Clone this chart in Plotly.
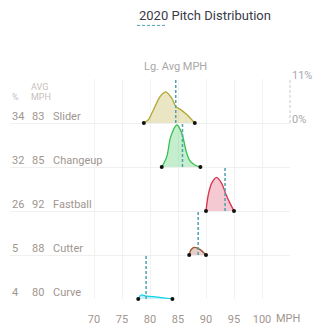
import plotly.graph_objects as go

# ---- data ----
pitches = ["Slider", "Changeup", "Fastball", "Cutter", "Curve"]
usage_pct = [34, 32, 26, 5, 4]
avg_mph = [83, 85, 92, 88, 80]
lg_avg_mph = [84.6, 85.8, 93.4, 88.6, 79.3]

slider_mph = [78.9, 79.7, 80.6, 81.8, 82.8, 83.9, 84.6, 85.4, 86.5, 88.0]
slider_pct = [0.0, 0.8, 3.25, 6.6, 7.8, 6.2, 4.1, 3.4, 2.2, 0.0]
changeup_mph = [82.1, 83.0, 83.7, 84.8, 85.7, 86.4, 87.1, 88.0, 89.0]
changeup_pct = [0.0, 2.6, 7.6, 10.5, 8.4, 4.25, 1.6, 0.5, 0.0]
fastball_mph = [90.0, 90.4, 91.0, 91.9, 92.8, 93.5, 94.3, 95.0]
fastball_pct = [0.0, 4.0, 6.9, 8.4, 6.9, 4.4, 1.9, 0.0]
cutter_mph = [87.0, 87.3, 87.9, 88.9, 90.0]
cutter_pct = [0.0, 1.25, 1.9, 1.4, 0.0]
curve_mph = [77.9, 78.4, 79.1, 80.6, 82.4, 84.0]
curve_pct = [0.0, 1.0, 0.8, 0.6, 0.3, 0.0]

densities = [(slider_mph, slider_pct), (changeup_mph, changeup_pct),
             (fastball_mph, fastball_pct), (cutter_mph, cutter_pct),
             (curve_mph, curve_pct)]

x_ticks = [70, 75, 80, 85, 90, 95, 100]
row_scale = 11  # each row spans 0% - 11%

# ---- styles ----
line_colors = ["#b3a633", "#35c04c", "#d8324f", "#a3522f", "#16d2e6"]
fill_colors = ["rgba(190,178,70,0.32)", "rgba(60,200,90,0.3)",
               "rgba(220,60,90,0.28)", "rgba(170,80,60,0.28)",
               "rgba(30,210,230,0.28)"]
label_color = "#a0968f"
head_color = "#c8c0ba"
teal = "#4da2b0"
FONT = "Roboto, sans-serif"
YTOP = 55.0

n = len(pitches)
fig = go.Figure()
shapes = []
annotations = []

for i, name in enumerate(pitches):
    base = (n - 1 - i) * row_scale
    xs, ps = densities[i]
    ys = [base + p for p in ps]
    fig.add_trace(go.Scatter(
        x=xs, y=ys, mode="lines", fill="toself", fillcolor=fill_colors[i],
        line=dict(color=line_colors[i], width=1.3, shape="spline", smoothing=0.9),
        hoverinfo="skip", showlegend=False, cliponaxis=False))
    fig.add_trace(go.Scatter(
        x=[xs[0], xs[-1]], y=[base, base], mode="markers",
        marker=dict(color="#111", size=4), hoverinfo="skip",
        showlegend=False, cliponaxis=False))
    shapes.append(dict(type="line", xref="x", yref="y",
                       x0=lg_avg_mph[i], x1=lg_avg_mph[i],
                       y0=base, y1=base + row_scale,
                       line=dict(color=teal, width=1.5, dash="3px,2px")))
    ly = base + 1.75
    annotations += [
        dict(xref="paper", yref="y", x=0, y=ly, text=str(usage_pct[i]),
             xanchor="left", yanchor="middle", showarrow=False,
             font=dict(family=FONT, size=11, color=label_color)),
        dict(xref="paper", yref="y", x=20 / 280, y=ly, text=str(avg_mph[i]),
             xanchor="left", yanchor="middle", showarrow=False,
             font=dict(family=FONT, size=11, color=label_color)),
        dict(xref="paper", yref="y", x=40.5 / 280, y=ly, text=name,
             xanchor="left", yanchor="middle", showarrow=False,
             font=dict(family=FONT, size=11, color=label_color)),
    ]

def py(v):
    return v / YTOP

# headers
annotations += [
    dict(xref="paper", yref="y", x=0, y=50.5, text="%", xanchor="left",
         yanchor="middle", showarrow=False,
         font=dict(family=FONT, size=9, color=head_color)),
    dict(xref="paper", yref="y", x=19 / 280, y=53.1, text="AVG", xanchor="left",
         yanchor="middle", showarrow=False,
         font=dict(family=FONT, size=9, color=head_color)),
    dict(xref="paper", yref="y", x=19 / 280, y=50.5, text="MPH", xanchor="left",
         yanchor="middle", showarrow=False,
         font=dict(family=FONT, size=9, color=head_color)),
    # title
    dict(xref="paper", yref="paper", x=127 / 280, y=py(70.9),
         text="2020 Pitch Distribution", xanchor="left", yanchor="middle",
         showarrow=False, font=dict(family=FONT, size=13, color="#3a3a48")),
    dict(xref="x", yref="paper", x=lg_avg_mph[0], y=py(58.25), text="Lg. Avg MPH",
         xanchor="center", yanchor="middle", showarrow=False,
         font=dict(family=FONT, size=11, color="#a8a8a8")),
    dict(xref="paper", yref="paper", x=1, y=py(56), text="11%", xanchor="left",
         yanchor="middle", showarrow=False, xshift=0,
         font=dict(family=FONT, size=11, color="#aaa6b0")),
    dict(xref="paper", yref="y", x=1, y=45, text="0%", xanchor="left",
         yanchor="middle", showarrow=False, xshift=0,
         font=dict(family=FONT, size=11, color="#aaa6b0")),
    dict(xref="paper", yref="y", x=264 / 280, y=0, text="MPH", xanchor="left",
         yanchor="middle", showarrow=False, yshift=-19,
         font=dict(family=FONT, size=11, color=label_color)),
]

shapes += [
    dict(type="line", xref="paper", yref="y", x0=1, x1=1, y0=44, y1=55,
         line=dict(color="#dddddd", width=1.5, dash="3px,2px")),
    dict(type="line", xref="paper", yref="paper", x0=127 / 280, x1=157 / 280,
         y0=py(68.4), y1=py(68.4), line=dict(color=teal, width=1, dash="3px,2px")),
]

fig.update_layout(
    width=331, height=335,
    margin=dict(l=10, r=41, t=79, b=36),
    paper_bgcolor="white", plot_bgcolor="white",
    xaxis=dict(range=[55, 105], tickvals=x_ticks,
               ticktext=[str(v) for v in x_ticks],
               showgrid=True, gridcolor="#f2f2f2", gridwidth=1,
               zeroline=False, showline=False,
               ticks="outside", ticklen=10, tickcolor="rgba(0,0,0,0)",
               tickfont=dict(family=FONT, size=11, color=label_color)),
    yaxis=dict(range=[0, YTOP], tickvals=[0, 11, 22, 33, 44],
               showgrid=True, gridcolor="#f0f0f0", gridwidth=1,
               zeroline=False, showticklabels=False, showline=False),
    shapes=shapes, annotations=annotations,
)

fig.write_html("out.html")
